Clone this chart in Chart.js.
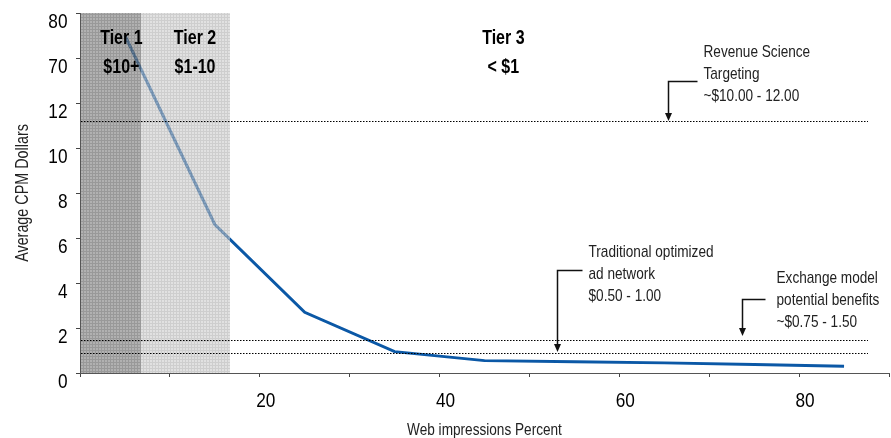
<!DOCTYPE html>
<html>
<head>
<meta charset="utf-8">
<script src="https://cdn.jsdelivr.net/npm/chart.js@4.4.1/dist/chart.umd.min.js"></script>
<style>
  html, body { margin: 0; padding: 0; background: #fff; }
  #wrap { width: 891px; height: 438px; }
</style>
</head>
<body>
<div id="wrap"><canvas id="cpm" width="891" height="438"></canvas></div>
<script>
// CPM curve: share of web impressions vs. average CPM
const impressionsPct = [5, 15, 25, 35, 45, 55, 65, 75, 85];
const cpmDollars     = [75, 6.6, 2.7, 0.95, 0.55, 0.5, 0.45, 0.38, 0.3];

// broken value axis: equally spaced ticks
const yTickValues  = [0, 2, 4, 6, 8, 10, 12, 70, 80];
const xLabelValues = [20, 40, 60, 80];

// pricing tiers (impression-share boundaries)
const tierNames  = ['Tier 1', 'Tier 2', 'Tier 3'];
const tierPrices = ['$10+', '$1-10', '< $1'];
const tierEdges  = [0, 6.8, 16.7];

// benchmark CPM levels
const benchmarkLevels = [11.2, 1.45, 0.9];
const benchmarkText = [
  ['Revenue Science', 'Targeting', '~$10.00 - 12.00'],
  ['Exchange model', 'potential benefits', '~$0.75 - 1.50'],
  ['Traditional optimized', 'ad network', '$0.50 - 1.00']
];

const xTitle = 'Web impressions Percent';
const yTitle = 'Average CPM Dollars';

const FAMILY = "'Liberation Sans', Arial, sans-serif";
const SQUEEZE = 0.82;   // condensed lettering

// map a dollar value onto the evenly spaced tick segments
function toSegment(v) {
  const t = yTickValues;
  if (v <= t[0]) return 0;
  for (let i = 0; i < t.length - 1; i++) {
    if (v <= t[i + 1]) return i + (v - t[i]) / (t[i + 1] - t[i]);
  }
  return t.length - 1;
}
function fromSegment(s) {
  const t = yTickValues;
  const i = Math.max(0, Math.min(t.length - 2, Math.floor(s)));
  return t[i] + (s - i) * (t[i + 1] - t[i]);
}

class BrokenLinearScale extends Chart.LinearScale {
  determineDataLimits() { this.min = 0; this.max = yTickValues.length - 1; }
  buildTicks() { return yTickValues.map(v => ({ value: v })); }
  getPixelForValue(v) { return super.getPixelForValue(toSegment(v)); }
  getValueForPixel(p) { return fromSegment(super.getValueForPixel(p)); }
}
BrokenLinearScale.id = 'brokenLinear';
BrokenLinearScale.defaults = Chart.LinearScale.defaults;
Chart.register(BrokenLinearScale);

function gridPattern(ctx, cell, line) {
  const c = document.createElement('canvas');
  c.width = 3; c.height = 3;
  const g = c.getContext('2d');
  g.fillStyle = cell; g.fillRect(0, 0, 3, 3);
  g.clearRect(2, 0, 1, 3); g.clearRect(0, 2, 2, 1);
  g.fillStyle = line; g.fillRect(2, 0, 1, 3); g.fillRect(0, 2, 2, 1);
  return ctx.createPattern(c, 'repeat');
}

// condensed text: baseline-anchored, optional rotation
function text(ctx, str, x, y, opts) {
  ctx.save();
  ctx.translate(x, y);
  if (opts.rotate) ctx.rotate(opts.rotate);
  ctx.scale(SQUEEZE, 1);
  ctx.font = (opts.weight || 'normal') + ' ' + opts.size + 'px ' + FAMILY;
  ctx.fillStyle = opts.color || '#000';
  ctx.textAlign = opts.align || 'left';
  ctx.textBaseline = 'alphabetic';
  ctx.fillText(str, 0, 0);
  ctx.restore();
}

// callout geometry (pixels relative to arrow tip / elbow)
const calloutLayout = [
  { at: 65.4, gap: 0, rise: 40, run: 29, textGap: 6,  baseDy: [-25, -2.5, 19] },
  { at: 73.7, gap: 4, rise: 37, run: 23, textGap: 11, baseDy: [-17, 5.5, 27.5] },
  { at: 53.1, gap: 1, rise: 82, run: 25, textGap: 6,  baseDy: [-14, 8, 30] }
];

const overlayPlugin = {
  id: 'overlay',
  afterDatasetsDraw(chart) {
    const { ctx } = chart;
    const xs = chart.scales.x, ys = chart.scales.y;
    const top = Math.round(ys.top), bottom = Math.round(ys.bottom);
    ctx.save();

    // tier shading (semi-opaque, over the curve)
    const fills = [
      gridPattern(ctx, 'rgba(140,140,140,0.68)', 'rgba(104,104,104,0.68)'),
      gridPattern(ctx, 'rgba(207,207,207,0.62)', 'rgba(176,176,176,0.62)')
    ];
    for (let i = 0; i < fills.length; i++) {
      let x0 = Math.round(xs.getPixelForValue(tierEdges[i]));
      if (i === 0) x0 += 1;
      const x1 = Math.round(xs.getPixelForValue(tierEdges[i + 1]));
      ctx.fillStyle = fills[i];
      ctx.fillRect(x0, top, x1 - x0, bottom - top);
    }

    // benchmark dotted lines
    ctx.strokeStyle = '#000';
    ctx.lineWidth = 1;
    ctx.setLineDash([1.5, 1.5]);
    const xEnd = Math.round(xs.getPixelForValue(87.7));
    const xStart = Math.round(xs.getPixelForValue(0)) + 1;
    benchmarkLevels.forEach(v => {
      const y = Math.round(ys.getPixelForValue(v)) + 0.5;
      ctx.beginPath(); ctx.moveTo(xStart, y); ctx.lineTo(xEnd, y); ctx.stroke();
    });
    ctx.setLineDash([]);

    // callouts
    calloutLayout.forEach((c, i) => {
      const tipX = Math.round(xs.getPixelForValue(c.at)) + 0.5;
      const tipY = Math.round(ys.getPixelForValue(benchmarkLevels[i])) - c.gap;
      const elbowY = Math.round(tipY - c.rise) + 0.5;
      ctx.strokeStyle = '#111';
      ctx.lineWidth = 1.5;
      ctx.beginPath();
      ctx.moveTo(tipX, tipY - 6);
      ctx.lineTo(tipX, elbowY);
      ctx.lineTo(tipX + c.run, elbowY);
      ctx.stroke();
      ctx.fillStyle = '#111';
      ctx.beginPath();
      ctx.moveTo(tipX - 3.5, tipY - 8);
      ctx.lineTo(tipX + 3.5, tipY - 8);
      ctx.lineTo(tipX, tipY);
      ctx.closePath();
      ctx.fill();
      benchmarkText[i].forEach((t, k) => {
        text(ctx, t, tipX + c.run + c.textGap, elbowY + c.baseDy[k], { size: 16.6, color: '#222' });
      });
    });

    // tier headings
    const tierLabelAt = [4.6, 12.8, 47.1];
    tierNames.forEach((n, i) => {
      const x = xs.getPixelForValue(tierLabelAt[i]);
      text(ctx, n, x, ys.top + 31, { size: 19.5, weight: 'bold', align: 'center' });
      text(ctx, tierPrices[i], x, ys.top + 60, { size: 19.5, weight: 'bold', align: 'center' });
    });
    ctx.restore();
  },
  afterDraw(chart) {
    const { ctx } = chart;
    const xs = chart.scales.x, ys = chart.scales.y;
    // value-axis labels
    ys.ticks.forEach((t, i) => {
      text(ctx, String(t.value), xs.left - 12.5, ys.getPixelForTick(i) + 15, { size: 21, align: 'right' });
    });
    // category-axis labels
    xLabelValues.forEach(v => {
      text(ctx, String(v), xs.getPixelForValue(v) + 6, 407, { size: 21, align: 'center' });
    });
    // axis titles
    text(ctx, xTitle, (xs.left + xs.right) / 2, 434.5, { size: 16.6, align: 'center', color: '#222' });
    text(ctx, yTitle, 28, (ys.top + ys.bottom) / 2, { size: 17.5, align: 'center', color: '#222', rotate: -Math.PI / 2 });
  }
};

new Chart(document.getElementById('cpm'), {
  type: 'line',
  data: {
    datasets: [{
      data: impressionsPct.map((x, i) => ({ x, y: cpmDollars[i] })),
      borderColor: '#0b58a6',
      borderWidth: 3,
      pointRadius: 0,
      tension: 0,
      fill: false
    }]
  },
  options: {
    responsive: false,
    devicePixelRatio: 1,
    animation: false,
    events: [],
    layout: { padding: { top: 13, right: 2, left: 0, bottom: 0 } },
    plugins: { legend: { display: false }, tooltip: { enabled: false } },
    scales: {
      x: {
        type: 'linear',
        min: 0,
        max: 90,
        afterFit(s) { s.height = 65; s.paddingLeft = 0; s.paddingRight = 0; },
        afterBuildTicks(s) { s.ticks = [0,1,2,3,4,5,6,7,8,9].map(k => ({ value: k * 10 })); },
        grid: { drawOnChartArea: false, drawTicks: true, tickLength: 4, color: '#444' },
        border: { display: true, color: '#555', width: 1 },
        ticks: { display: false },
        title: { display: false }
      },
      y: {
        type: 'brokenLinear',
        afterFit(s) { s.width = 80; s.paddingTop = 0; s.paddingBottom = 0; },
        grid: { drawOnChartArea: false, drawTicks: true, tickLength: 4, color: '#444' },
        border: { display: true, color: '#555', width: 1 },
        ticks: { display: false },
        title: { display: false }
      }
    }
  },
  plugins: [overlayPlugin]
});
</script>
</body>
</html>
